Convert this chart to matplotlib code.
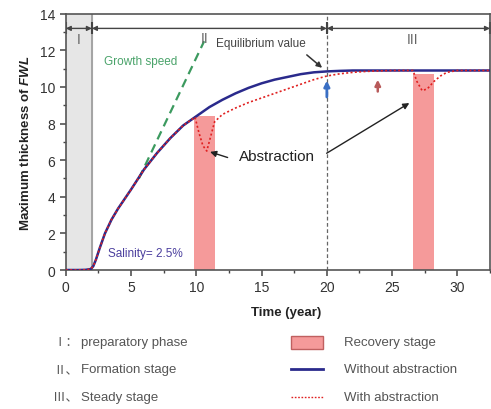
import numpy as np
import matplotlib
matplotlib.use("Agg")
from matplotlib import pyplot as plt
from matplotlib.patches import Rectangle
from matplotlib.lines import Line2D
from matplotlib.ticker import MultipleLocator

plt.rcParams['font.family'] = ['Liberation Sans', 'Noto Sans CJK SC', 'DejaVu Sans']
plt.rcParams['mathtext.fontset'] = 'custom'
plt.rcParams['mathtext.it'] = 'Liberation Sans:italic:bold'

# curve without abstraction
t_base = [0, 1, 1.5, 1.9, 2.1, 2.3, 2.6, 3, 3.5, 4, 5, 6, 7, 8, 9, 10, 11, 12, 13, 14, 15, 16, 17, 18, 19, 20, 21, 22, 24, 26, 28, 30, 32.5]
h_base = [0, 0, 0.01, 0.05, 0.2, 0.55, 1.2, 2.0, 2.75, 3.35, 4.4, 5.5, 6.4, 7.2, 7.9, 8.4, 8.9, 9.3, 9.65, 9.95, 10.2, 10.4, 10.55, 10.7, 10.8, 10.85, 10.88, 10.9, 10.9, 10.9, 10.9, 10.9, 10.9]

# curve with abstraction
t_abs = [0, 1, 1.5, 1.9, 2.1, 2.3, 2.6, 3, 3.5, 4, 5, 6, 7, 8, 9, 9.9, 10.2, 10.5, 10.8, 11.1, 11.4, 12, 13, 14, 15, 16, 17, 18, 19, 20, 21, 22, 23, 24, 25, 26.6, 26.9, 27.3, 27.7, 28.2, 28.7, 29.2, 30, 32.5]
h_abs = [0, 0, 0.01, 0.05, 0.2, 0.55, 1.2, 2.0, 2.75, 3.35, 4.4, 5.5, 6.4, 7.2, 7.9, 8.35, 7.5, 6.8, 6.5, 7.3, 8.1, 8.5, 8.85, 9.15, 9.4, 9.65, 9.9, 10.15, 10.4, 10.6, 10.72, 10.8, 10.85, 10.88, 10.9, 10.9, 10.3, 9.8, 9.9, 10.3, 10.6, 10.8, 10.9, 10.9]

# recovery stages
band_start = [9.8, 26.6]
band_end = [11.4, 28.2]
band_top = [8.4, 10.7]

growth_x = [5.6, 10.6]
growth_y = [5.0, 12.5]

stage_bounds = [0, 2, 20, 32.5]

fig = plt.figure(figsize=(4.91, 4.10), dpi=100)
ax = fig.add_axes([0.134, 0.339, 0.864, 0.625])

ax.axvspan(0, 2, color='#e6e6e6', zorder=0)
ax.axvline(2, color='#999999', lw=1.2, zorder=1)
ax.axvline(20, color='#666666', lw=0.9, ls=(0, (3, 2)), zorder=1)

for s, e, top in zip(band_start, band_end, band_top):
    ax.add_patch(Rectangle((s, 0), e - s, top, facecolor='#f59a9a', edgecolor='none', zorder=1))

ax.plot(growth_x, growth_y, color='#3c9a5f', ls=(0, (4, 2.5)), lw=1.6, zorder=2)
ax.plot(t_base, h_base, color='#2a2a8c', lw=1.8, zorder=3)
ax.plot(t_abs, h_abs, color='#e02020', lw=1.2, ls=(0, (1.2, 1.4)), zorder=4)

# stage arrows at top
for a, b in zip(stage_bounds[:-1], stage_bounds[1:]):
    ax.annotate('', xy=(a, 13.2), xytext=(b, 13.2),
                arrowprops=dict(arrowstyle='<|-|>', color='#444444', lw=1.0, shrinkA=0, shrinkB=0,
                                mutation_scale=7))
ax.plot(stage_bounds, [13.2] * 4, ls='none', marker='|', ms=8, color='#444444', mew=1.5)

ax.text(1.0, 12.6, 'I', color='#666666', fontsize=10, ha='center', va='center')
ax.text(10.6, 12.65, 'II', color='#666666', fontsize=10, ha='center', va='center')
ax.text(26.6, 12.6, 'III', color='#666666', fontsize=10, ha='center', va='center')

ax.text(2.9, 11.4, 'Growth speed', color='#4aa36a', fontsize=8.5, va='center')
ax.text(11.5, 12.4, 'Equilibrium value', color='#444444', fontsize=8.5, va='center')
ax.annotate('', xy=(19.8, 10.95), xytext=(18.3, 11.85),
            arrowprops=dict(arrowstyle='-|>', color='#333333', lw=1.1, mutation_scale=8))

ax.text(16.2, 6.25, 'Abstraction', color='#222222', fontsize=11, ha='center', va='center')
ax.annotate('', xy=(10.85, 6.5), xytext=(12.6, 6.1),
            arrowprops=dict(arrowstyle='-|>', color='#222222', lw=1.0, mutation_scale=9))
ax.annotate('', xy=(26.5, 9.2), xytext=(19.8, 6.3),
            arrowprops=dict(arrowstyle='-|>', color='#222222', lw=1.0, mutation_scale=9))

ax.annotate('', xy=(20, 10.5), xytext=(20, 9.3),
            arrowprops=dict(arrowstyle='-|>', color='#3a6fc4', lw=2.0, mutation_scale=8))
ax.annotate('', xy=(23.9, 10.55), xytext=(23.9, 9.6),
            arrowprops=dict(arrowstyle='-|>', color='#b85a5a', lw=1.8, mutation_scale=8))

ax.text(3.2, 0.95, 'Salinity= 2.5%', color='#4b3f9e', fontsize=8.5, va='center')

ax.set_xlim(0, 32.5)
ax.set_ylim(0, 14)
ax.xaxis.set_major_locator(MultipleLocator(5))
ax.xaxis.set_minor_locator(MultipleLocator(2.5))
ax.yaxis.set_major_locator(MultipleLocator(2))
ax.yaxis.set_minor_locator(MultipleLocator(1))
ax.tick_params(which='major', direction='out', length=4, width=1.1, colors='#444444', labelsize=10, labelcolor='#333333')
ax.tick_params(which='minor', direction='out', length=2.5, width=1.0, colors='#444444')
for sp in ax.spines.values():
    sp.set_color('#555555')
    sp.set_linewidth(1.2)

ax.set_ylabel('Maximum thickness of $\\it{FWL}$', fontsize=9.5, fontweight='bold', color='#222222', labelpad=6)
fig.text(0.583, 0.237, 'Time (year)', fontsize=9.5, fontweight='bold', color='#222222', ha='center', va='center')

# legend area
left_nums = ['Ⅰ：', 'Ⅱ、', 'Ⅲ、']
left_labels = ['preparatory phase', 'Formation stage', 'Steady stage']
right_labels = ['Recovery stage', 'Without abstraction', 'With abstraction']
rows_y = [0.163, 0.097, 0.030]

for num, lab, y in zip(left_nums, left_labels, rows_y):
    fig.text(0.108, y, num, fontsize=9, color='#555555', va='center')
    fig.text(0.165, y, lab, fontsize=9.5, color='#555555', va='center')

fig.patches.append(Rectangle((0.592, rows_y[0] - 0.016), 0.066, 0.032, transform=fig.transFigure,
                             facecolor='#f59a9a', edgecolor='#c06060', lw=1.0))
fig.lines.append(Line2D([0.592, 0.658], [rows_y[1]] * 2, transform=fig.transFigure, color='#2a2a8c', lw=2.0))
fig.lines.append(Line2D([0.592, 0.658], [rows_y[2]] * 2, transform=fig.transFigure, color='#e02020', lw=1.0, ls=(0, (1.2, 1.2))))
for lab, y in zip(right_labels, rows_y):
    fig.text(0.700, y, lab, fontsize=9.5, color='#555555', va='center')

fig.savefig('out.png', dpi=100)
